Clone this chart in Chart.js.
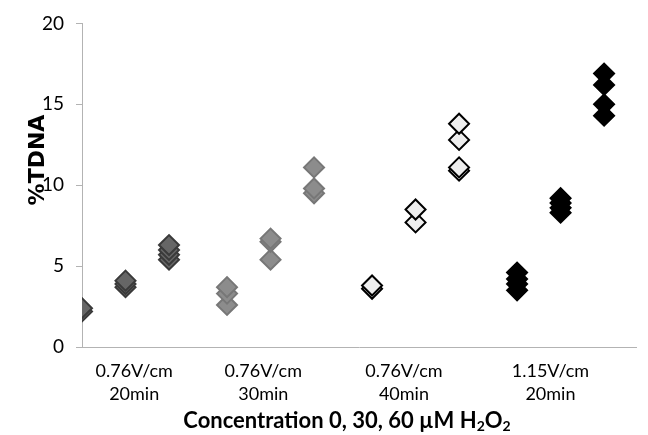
<!DOCTYPE html>
<html>
<head>
<meta charset="utf-8">
<script src="https://cdn.jsdelivr.net/npm/chart.js@4"></script>
<style>
  body { margin: 0; background: #fff; }
  canvas { display: block; }
</style>
</head>
<body>
<canvas id="myChart" width="648" height="435"></canvas>
<script>
// data (x = position along the concentration axis)
const catLabels = [['0.76V/cm', '20min'], ['0.76V/cm', '30min'], ['0.76V/cm', '40min'], ['1.15V/cm', '20min']];
const catPos = [36, 125, 222, 323];
const yTicks = [0, 5, 10, 15, 20];

const x20 = [0, 0, 30, 30, 30, 60, 60, 60, 60];
const y20 = [2.2, 2.4, 3.7, 3.9, 4.1, 5.4, 5.7, 6.0, 6.3];

const x30 = [100, 100, 100, 130, 130, 130, 160, 160, 160];
const y30 = [2.6, 3.3, 3.7, 5.4, 6.5, 6.7, 9.5, 9.8, 11.1];

const x40 = [200, 200, 230, 230, 260, 260, 260, 260];
const y40 = [3.6, 3.8, 7.7, 8.5, 10.9, 11.1, 12.8, 13.8];

const x115 = [300, 300, 300, 300, 330, 330, 330, 330, 360, 360, 360, 360];
const y115 = [3.5, 3.9, 4.2, 4.6, 8.3, 8.6, 8.9, 9.2, 14.3, 15.0, 16.2, 16.9];

function pts(xs, ys) {
  return xs.map(function(x, i) { return { x: x, y: ys[i] } })
}

function ds(label, xs, ys, fill, border) {
  return {
    label: label,
    data: pts(xs, ys),
    pointStyle: 'rectRot',
    pointRadius: 10,
    pointHoverRadius: 10,
    borderWidth: 2,
    backgroundColor: fill,
    borderColor: border,
    showLine: false
  }
}

// axis titles drawn by hand so they sit where the original has them
const titles = {
  id: 'titles',
  afterDraw(chart) {
    const ctx = chart.ctx;
    ctx.save();
    ctx.fillStyle = '#000';
    ctx.textBaseline = 'alphabetic';

    ctx.save();
    ctx.translate(44, 160);
    ctx.rotate(-Math.PI / 2);
    ctx.font = 'bold 22px "DejaVu Sans"';
    ctx.textAlign = 'center';
    ctx.fillText('%TDNA', 0, 0);
    ctx.restore();

    const parts = [
      ['Concentration 0, 30, 60 µM H', 22, 0],
      ['2', 14, 3],
      ['O', 22, 0],
      ['2', 14, 3]
    ];
    let total = 0;
    parts.forEach(function(p) {
      ctx.font = 'bold ' + p[1] + 'px Lato';
      total += ctx.measureText(p[0]).width;
    });
    let x = 347 - total / 2;
    ctx.textAlign = 'left';
    parts.forEach(function(p) {
      ctx.font = 'bold ' + p[1] + 'px Lato';
      ctx.fillText(p[0], x, 428 + p[2]);
      x += ctx.measureText(p[0]).width;
    });
    ctx.restore();
  }
};

const ctx = document.getElementById('myChart').getContext('2d');
const myChart = new Chart(ctx, {
  type: 'scatter',
  data: {
    datasets: [
      ds('0.76V/cm 20min', x20, y20, '#666666', '#3a3a3a'),
      ds('0.76V/cm 30min', x30, y30, '#8c8c8c', '#777777'),
      ds('0.76V/cm 40min', x40, y40, '#eeeeee', '#000000'),
      ds('1.15V/cm 20min', x115, y115, '#000000', '#000000')
    ]
  },
  options: {
    responsive: false,
    animation: false,
    layout: { padding: { top: 17, right: 6, left: 0, bottom: 0 } },
    plugins: {
      legend: { display: false },
      tooltip: { enabled: false }
    },
    scales: {
      x: {
        type: 'linear',
        min: 0,
        max: 382,
        afterFit: function(scale) { scale.height = 88 },
        afterBuildTicks: function(scale) {
          scale.ticks = catPos.map(function(v) { return { value: v } })
        },
        grid: { display: false },
        border: { color: '#b3b3b3', width: 1 },
        ticks: {
          autoSkip: false,
          maxRotation: 0,
          padding: 4,
          color: '#000',
          font: { family: 'Lato', size: 18, lineHeight: 1.3 },
          callback: function(value, index) { return catLabels[index] }
        }
      },
      y: {
        min: 0,
        max: 20,
        afterFit: function(scale) { scale.width = 82 },
        afterBuildTicks: function(scale) {
          scale.ticks = yTicks.map(function(v) { return { value: v } })
        },
        grid: { drawOnChartArea: false, tickLength: 6, color: '#b3b3b3' },
        border: { color: '#b3b3b3', width: 1 },
        ticks: {
          padding: 12,
          color: '#000',
          font: { family: 'Lato', size: 19 }
        }
      }
    }
  },
  plugins: [titles]
});
</script>
</body>
</html>
